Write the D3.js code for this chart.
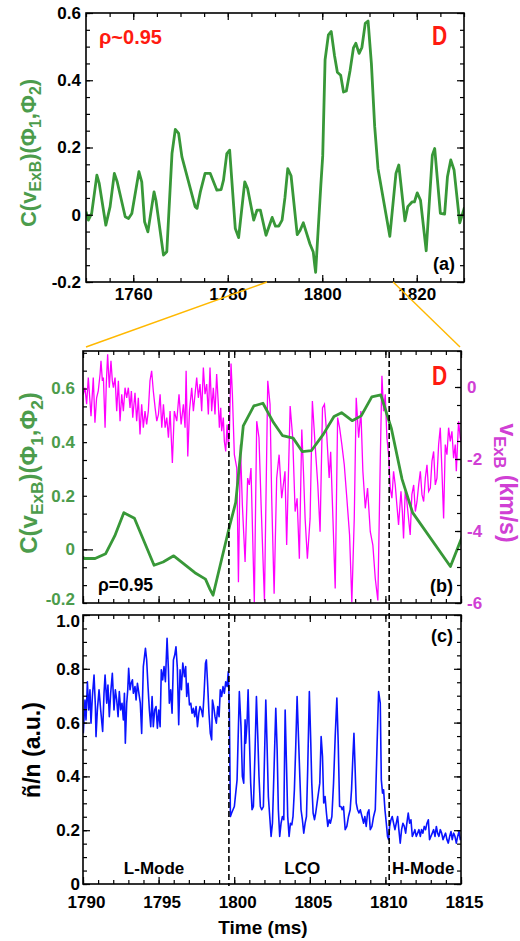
<!DOCTYPE html>
<html>
<head>
<meta charset="utf-8">
<script src="https://cdn.jsdelivr.net/npm/d3@7"></script>
<style>
  body { margin: 0; background: #fff; }
</style>
</head>
<body>
<div id="chart"></div>
<script>
// ------------------------------------------------------------------ //
// DATA
// ------------------------------------------------------------------ //

// correlation C(vExB)(phi1,phi2), [time ms, value]
var corr = [
  [1750.0,0.009],[1750.5,-0.016],[1751.2,0.004],[1752.3,0.118],[1752.8,0.093],[1754.2,-0.031],
  [1755.1,0.024],[1756.0,0.123],[1756.6,0.098],[1758.3,-0.006],[1759.0,-0.011],[1759.7,0.004],
  [1761.2,0.128],[1761.8,0.098],[1762.4,-0.021],[1763.1,-0.051],[1764.4,0.068],[1764.8,0.043],
  [1766.4,-0.12],[1767.1,-0.11],[1768.2,0.182],[1768.9,0.254],[1769.6,0.242],[1770.3,0.172],
  [1773.1,0.024],[1773.5,0.019],[1774.2,0.068],[1775.2,0.123],[1776.3,0.123],[1777.7,0.073],
  [1778.6,0.075],[1779.1,0.103],[1779.8,0.182],[1780.4,0.192],[1781.6,-0.041],[1782.3,-0.068],
  [1783.6,0.098],[1784.2,0.078],[1785.5,-0.016],[1786.2,0.014],[1786.9,0.014],[1788.1,-0.061],
  [1789.4,-0.008],[1790.1,-0.034],[1790.8,-0.034],[1791.5,-0.016],[1792.1,0.05],[1792.7,0.137],
  [1793.4,0.116],[1794.7,-0.059],[1795.3,-0.047],[1796.0,-0.024],[1797.4,-0.087],[1798.1,-0.111],
  [1798.4,-0.149],[1798.6,-0.171],[1799.7,0.088],[1800.1,0.175],[1800.6,0.461],[1801.3,0.535],
  [1801.9,0.545],[1802.6,0.473],[1803.2,0.424],[1803.9,0.415],[1804.5,0.365],[1805.1,0.368],
  [1805.9,0.43],[1806.6,0.496],[1807.1,0.51],[1807.8,0.48],[1808.4,0.498],[1809.1,0.569],
  [1809.7,0.576],[1810.4,0.45],[1811.1,0.262],[1811.8,0.137],[1814.3,-0.064],[1815.6,0.123],
  [1816.2,0.148],[1817.5,-0.018],[1818.1,0.024],[1819.0,0.038],[1819.5,0.038],[1820.1,0.065],
  [1820.8,0.043],[1822.0,-0.107],[1823.3,0.177],[1823.8,0.197],[1825.0,0.004],[1825.9,0.002],
  [1826.5,0.113],[1827.2,0.163],[1827.9,0.133],[1829.1,-0.024],[1830.1,0.022]
];

// vExB (km/s), [time ms, value]
var vexb = [
  [1789.95,-0.2],[1790.02,-0.2],[1790.13,-0.02],[1790.24,-0.48],[1790.35,0.26],[1790.46,-0.39],
  [1790.53,-0.81],[1790.68,0.26],[1790.79,-0.99],[1790.9,-0.3],[1791.01,-0.11],[1791.13,0.36],
  [1791.19,0.73],[1791.28,0.17],[1791.35,0.26],[1791.46,-1.13],[1791.54,0.08],[1791.63,0.91],
  [1791.74,-0.02],[1791.85,0.73],[1791.94,0.17],[1792.01,-0.02],[1792.12,0.26],[1792.23,-0.67],
  [1792.34,0.17],[1792.45,-0.95],[1792.56,-0.2],[1792.67,-0.67],[1792.78,-0.02],[1792.89,-0.3],
  [1793.0,-0.02],[1793.11,-0.58],[1793.2,-0.11],[1793.29,-0.85],[1793.44,-0.16],[1793.55,-0.95],
  [1793.66,-0.3],[1793.77,-1.32],[1793.88,-0.48],[1793.99,-1.13],[1794.1,-0.67],[1794.21,-1.04],
  [1794.32,-0.67],[1794.43,0.17],[1794.54,0.45],[1794.65,-0.11],[1794.77,-0.58],[1794.88,-0.95],
  [1794.99,-0.76],[1795.1,-0.2],[1795.21,-1.13],[1795.32,-0.48],[1795.43,-1.13],[1795.54,-0.85],
  [1795.65,-1.41],[1795.76,-0.67],[1795.91,-2.11],[1796.04,-0.67],[1796.2,-0.95],[1796.35,-0.2],
  [1796.49,-1.04],[1796.64,-0.48],[1796.75,-1.13],[1796.82,0.45],[1796.93,-1.93],[1797.04,-0.67],
  [1797.19,-0.02],[1797.3,-0.67],[1797.41,-0.2],[1797.52,0.26],[1797.63,-0.3],[1797.74,0.08],
  [1797.85,-0.67],[1797.96,0.54],[1798.07,-0.2],[1798.18,0.08],[1798.29,-0.76],[1798.4,0.54],
  [1798.51,-0.67],[1798.62,-0.02],[1798.73,-0.76],[1798.84,0.36],[1798.95,-0.48],[1799.02,-1.13],
  [1799.11,-0.58],[1799.17,-1.23],[1799.28,-0.85],[1799.35,-1.51],[1799.44,-1.79],[1799.53,-1.04],
  [1799.61,-1.6],[1799.68,-1.32],[1799.79,0.65],[1799.88,-0.2],[1800.01,-1.88],[1800.17,-2.25],
  [1800.28,-5.42],[1800.41,-1.6],[1800.54,-3.28],[1800.72,-4.86],[1800.89,-2.53],[1801.0,-2.72],
  [1801.11,-2.25],[1801.33,-5.98],[1801.49,-0.95],[1801.64,-1.41],[1801.78,-3.28],[1802.0,-5.93],
  [1802.22,0.17],[1802.37,-0.48],[1802.48,-3.09],[1802.64,-5.74],[1802.81,-2.53],[1802.97,-1.88],
  [1803.14,-3.09],[1803.36,-2.34],[1803.47,-4.39],[1803.7,-0.53],[1803.87,-1.41],[1804.03,-3.46],
  [1804.16,-3.09],[1804.31,-4.77],[1804.47,-1.18],[1804.58,-2.34],[1804.69,-3.65],[1804.84,-4.77],
  [1805.02,-3.65],[1805.17,-0.39],[1805.35,-1.6],[1805.53,-2.72],[1805.68,-4.02],[1805.84,-0.58],
  [1805.97,-0.48],[1806.12,-1.32],[1806.28,-2.53],[1806.38,-1.8],[1806.53,-3.65],[1806.68,-5.6],
  [1806.84,-0.85],[1806.97,-1.13],[1807.12,-1.6],[1807.28,-2.16],[1807.45,-3.09],[1807.63,-4.11],
  [1807.78,-5.98],[1807.94,-3.65],[1808.07,-0.3],[1808.23,-1.41],[1808.38,-0.67],[1808.51,-2.34],
  [1808.67,-3.37],[1808.82,-2.81],[1809.0,-4.02],[1809.17,-4.39],[1809.33,-5.32],[1809.5,-5.93],
  [1809.66,-2.06],[1809.77,0.31],[1809.88,-0.67],[1809.99,-0.2],[1810.1,-1.41],[1810.21,-1.88],
  [1810.32,-2.81],[1810.43,-3.09],[1810.54,-2.34],[1810.65,-2.72],[1810.76,-3.28],[1810.87,-3.83],
  [1811.03,-2.9],[1811.12,-3.46],[1811.2,-4.21],[1811.31,-2.9],[1811.42,-3.18],[1811.53,-3.65],
  [1811.64,-4.11],[1811.75,-2.99],[1811.87,-2.72],[1811.98,-3.46],[1812.09,-3.18],[1812.2,-2.72],
  [1812.31,-2.34],[1812.42,-2.99],[1812.53,-3.18],[1812.64,-2.53],[1812.75,-2.16],[1812.86,-2.9],
  [1812.97,-2.81],[1813.08,-2.06],[1813.19,-1.79],[1813.3,-2.72],[1813.41,-2.53],[1813.52,-1.6],
  [1813.63,-1.13],[1813.74,-2.34],[1813.85,-3.65],[1813.96,-1.6],[1814.07,-1.88],[1814.18,-1.13],
  [1814.29,-1.51],[1814.4,-1.23],[1814.51,-1.98],[1814.62,-1.6],[1814.69,-2.34],[1814.84,-0.95],
  [1814.95,-1.41],[1815.06,-1.6]
];

// density fluctuation n~/n (a.u.), [time ms, value]
var dens = [
  [1790.02,0.560],[1790.13,0.684],[1790.2,0.610],[1790.29,0.752],[1790.38,0.647],[1790.46,0.722],
  [1790.53,0.598],[1790.62,0.697],[1790.73,0.777],[1790.82,0.660],[1790.86,0.548],[1790.95,0.647],
  [1791.06,0.722],[1791.17,0.647],[1791.3,0.567],[1791.39,0.709],[1791.46,0.777],[1791.57,0.672],
  [1791.65,0.740],[1791.74,0.622],[1791.83,0.709],[1791.94,0.783],[1792.05,0.647],[1792.14,0.722],
  [1792.23,0.684],[1792.32,0.622],[1792.4,0.715],[1792.49,0.647],[1792.58,0.672],[1792.67,0.610],
  [1792.74,0.709],[1792.8,0.523],[1792.89,0.672],[1792.96,0.722],[1793.02,0.802],[1793.11,0.722],
  [1793.18,0.746],[1793.27,0.759],[1793.33,0.709],[1793.44,0.734],[1793.51,0.684],[1793.6,0.746],
  [1793.68,0.715],[1793.79,0.672],[1793.88,0.560],[1793.99,0.808],[1794.13,0.876],[1794.21,0.833],
  [1794.3,0.734],[1794.39,0.647],[1794.48,0.585],[1794.57,0.697],[1794.65,0.585],[1794.74,0.647],
  [1794.83,0.660],[1794.92,0.579],[1795.01,0.647],[1795.1,0.585],[1795.18,0.796],[1795.27,0.759],
  [1795.36,0.808],[1795.45,0.752],[1795.56,0.913],[1795.65,0.796],[1795.71,0.672],[1795.8,0.722],
  [1795.89,0.635],[1795.98,0.833],[1796.07,0.852],[1796.15,0.882],[1796.24,0.802],[1796.33,0.592],
  [1796.42,0.796],[1796.51,0.722],[1796.6,0.821],[1796.71,0.771],[1796.79,0.808],[1796.86,0.697],
  [1796.95,0.746],[1797.04,0.666],[1797.13,0.672],[1797.21,0.635],[1797.3,0.653],[1797.39,0.622],
  [1797.48,0.660],[1797.57,0.585],[1797.66,0.635],[1797.74,0.660],[1797.83,0.647],[1797.92,0.622],
  [1798.01,0.709],[1798.1,0.821],[1798.16,0.833],[1798.25,0.734],[1798.33,0.635],[1798.42,0.560],
  [1798.51,0.536],[1798.56,0.684],[1798.64,0.660],[1798.73,0.622],[1798.82,0.598],[1798.91,0.660],
  [1799.0,0.622],[1799.08,0.722],[1799.17,0.697],[1799.26,0.734],[1799.35,0.709],[1799.44,0.752],
  [1799.53,0.734],[1799.61,0.790],[1799.68,0.647],[1799.75,0.251],[1799.83,0.264],[1799.92,0.276],
  [1800.01,0.288],[1800.1,0.338],[1800.19,0.387],[1800.28,0.585],[1800.34,0.715],[1800.45,0.585],
  [1800.54,0.400],[1800.63,0.375],[1800.72,0.610],[1800.76,0.523],[1800.85,0.598],[1800.92,0.722],
  [1801.0,0.548],[1801.09,0.375],[1801.18,0.276],[1801.27,0.288],[1801.38,0.499],[1801.47,0.697],
  [1801.56,0.548],[1801.64,0.400],[1801.73,0.288],[1801.82,0.276],[1801.93,0.288],[1802.09,0.684],
  [1802.17,0.523],[1802.26,0.325],[1802.35,0.251],[1802.44,0.177],[1802.53,0.226],[1802.64,0.437],
  [1802.75,0.653],[1802.84,0.499],[1802.92,0.276],[1803.01,0.177],[1803.1,0.226],[1803.19,0.251],
  [1803.28,0.239],[1803.37,0.647],[1803.45,0.462],[1803.54,0.251],[1803.63,0.177],[1803.72,0.226],
  [1803.81,0.220],[1803.89,0.251],[1803.98,0.350],[1804.07,0.511],[1804.16,0.697],[1804.25,0.548],
  [1804.34,0.400],[1804.42,0.276],[1804.51,0.239],[1804.6,0.189],[1804.69,0.226],[1804.78,0.251],
  [1804.86,0.424],[1804.97,0.715],[1805.06,0.536],[1805.13,0.375],[1805.22,0.264],[1805.31,0.239],
  [1805.39,0.264],[1805.48,0.301],[1805.57,0.338],[1805.66,0.375],[1805.75,0.548],[1805.84,0.474],
  [1805.92,0.301],[1806.01,0.325],[1806.1,0.264],[1806.19,0.214],[1806.28,0.239],[1806.36,0.226],
  [1806.46,0.251],[1806.57,0.375],[1806.68,0.548],[1806.79,0.691],[1806.88,0.523],[1806.97,0.288],
  [1807.06,0.288],[1807.14,0.276],[1807.23,0.288],[1807.34,0.202],[1807.45,0.214],[1807.56,0.251],
  [1807.67,0.276],[1807.76,0.350],[1807.85,0.474],[1807.92,0.560],[1808.0,0.424],[1808.07,0.301],
  [1808.16,0.276],[1808.25,0.264],[1808.34,0.276],[1808.45,0.251],[1808.56,0.226],[1808.64,0.251],
  [1808.73,0.214],[1808.82,0.264],[1808.91,0.276],[1809.0,0.202],[1809.11,0.214],[1809.22,0.251],
  [1809.33,0.276],[1809.44,0.499],[1809.55,0.715],[1809.66,0.672],[1809.73,0.387],[1809.81,0.338],
  [1809.88,0.350],[1809.97,0.276],[1810.06,0.226],[1810.14,0.177],[1810.21,0.165],[1810.28,0.214],
  [1810.37,0.239],[1810.45,0.251],[1810.54,0.226],[1810.63,0.202],[1810.72,0.226],[1810.81,0.251],
  [1810.89,0.202],[1810.98,0.152],[1811.07,0.202],[1811.16,0.226],[1811.25,0.214],[1811.34,0.189],
  [1811.42,0.226],[1811.51,0.264],[1811.6,0.226],[1811.69,0.239],[1811.78,0.177],[1811.87,0.189],
  [1811.95,0.202],[1812.04,0.177],[1812.13,0.189],[1812.22,0.202],[1812.31,0.177],[1812.39,0.202],
  [1812.48,0.189],[1812.57,0.214],[1812.66,0.202],[1812.75,0.226],[1812.84,0.239],[1812.92,0.165],
  [1813.01,0.177],[1813.1,0.189],[1813.19,0.202],[1813.28,0.177],[1813.37,0.214],[1813.45,0.189],
  [1813.54,0.177],[1813.63,0.202],[1813.72,0.189],[1813.81,0.165],[1813.89,0.177],[1813.98,0.189],
  [1814.07,0.165],[1814.16,0.152],[1814.25,0.177],[1814.34,0.195],[1814.42,0.165],[1814.51,0.189],
  [1814.6,0.177],[1814.69,0.152],[1814.78,0.177],[1814.87,0.195],[1814.95,0.165],[1815.06,0.177]
];

// time window of panel (a) zoomed into (b), and the regime boundaries
var zoomWindow = [1788.3, 1815];
var transitions = [1799.65, 1810.25];
var regimes = [
  {label: "L-Mode", t: 1794.7},
  {label: "LCO", t: 1804.5},
  {label: "H-Mode", t: 1812.5}
];

// tick labels
var ticksAx = [1760, 1780, 1800, 1820];
var ticksAy = [-0.2, 0, 0.2, 0.4, 0.6];
var ticksBy = [-0.2, 0, 0.2, 0.4, 0.6];
var ticksBy2 = [-6, -4, -2, 0];
var ticksCx = [1790, 1795, 1800, 1805, 1810, 1815];
var ticksCy = [0, 0.2, 0.4, 0.6, 0.8, 1.0];

// ------------------------------------------------------------------ //
// SVG AREA
// ------------------------------------------------------------------ //

var FONT = "'Liberation Sans', Arial, Helvetica, sans-serif";
var GREEN = "#389838", GREEN_TXT = "#4c9c4c", MAGENTA = "#ff00ff", MAG_TXT = "#d040d4",
    BLUE = "#0a14ff", RED = "#ff1a10", ORANGE = "#ffb800";

var svg = d3.select("#chart")
  .append("svg")
    .attr("width", 520)
    .attr("height", 941)
    .style("font-family", FONT)
    .style("font-weight", "bold");

// scales
var xA = d3.scaleLinear().domain([1750, 1830]).range([86, 464]);
var yA = d3.scaleLinear().domain([-0.2, 0.6]).range([282, 13]);
var xB = d3.scaleLinear().domain([1790, 1815]).range([83, 461]);
var yB = d3.scaleLinear().domain([-0.2, 0.74]).range([603, 351]);
var yB2 = d3.scaleLinear().domain([-6, 1]).range([603, 351]);
var yC = d3.scaleLinear().domain([0, 1]).range([884, 615]);

function fmt1(d) { return d === 0 ? "0" : d.toFixed(1); }

// tick marks pointing inwards, no labels
function tickMarks(axisGen, scale, values, size, tx, ty) {
  svg.append("g")
    .attr("transform", "translate(" + tx + "," + ty + ")")
    .call(axisGen(scale).tickValues(values).tickSizeInner(-size).tickSizeOuter(0).tickFormat(""))
    .call(function(g) { g.select(".domain").remove(); })
    .selectAll("line")
      .attr("stroke", "#000")
      .attr("stroke-width", 1.2);
}

// tick labels only
function tickLabels(axisGen, scale, values, format, pad, tx, ty, color, dx) {
  var g = svg.append("g")
    .attr("transform", "translate(" + tx + "," + ty + ")")
    .call(axisGen(scale).tickValues(values).tickSize(0).tickPadding(pad).tickFormat(format));
  g.select(".domain").remove();
  g.attr("font-family", FONT).attr("font-size", 17).attr("font-weight", "bold");
  g.selectAll("text").attr("fill", color).attr("dx", dx || 0);
  return g;
}

function frame(x0, x1, y0, y1) {
  svg.append("rect")
    .attr("x", x0).attr("y", y0)
    .attr("width", x1 - x0).attr("height", y1 - y0)
    .attr("fill", "none")
    .attr("stroke", "#000")
    .attr("stroke-width", 1.6);
}

function clip(id, x0, x1, y0, y1) {
  svg.append("clipPath").attr("id", id)
    .append("rect")
      .attr("x", x0).attr("y", y0)
      .attr("width", x1 - x0).attr("height", y1 - y0);
}

// rotated title with subscripts
function title(parts, x, y, angle, size, color) {
  var t = svg.append("text")
    .attr("transform", "translate(" + x + "," + y + ")rotate(" + angle + ")")
    .attr("text-anchor", "middle")
    .attr("font-size", size)
    .attr("fill", color);
  var shift = 0;
  parts.forEach(function(p) {
    var s = p.sub ? size * 0.24 : 0;
    t.append("tspan")
      .attr("dy", s - shift)
      .attr("font-size", p.sub ? size * 0.72 : size)
      .text(p.t);
    shift = s;
  });
}

// ------------------------------------------------------------------ //
// PANEL (a)
// ------------------------------------------------------------------ //

clip("clipA", 86, 464, 13, 282);

svg.append("path")
  .datum(corr)
  .attr("clip-path", "url(#clipA)")
  .attr("fill", "none")
  .attr("stroke", GREEN)
  .attr("stroke-width", 2.8)
  .attr("stroke-linejoin", "round")
  .attr("d", d3.line().x(function(d) { return xA(d[0]); }).y(function(d) { return yA(d[1]); }));

var minorAx = d3.range(1750, 1831, 5);
var minorAy = d3.range(-4, 13).map(function(k) { return k * 0.05; });
tickMarks(d3.axisBottom, xA, minorAx, 4, 0, 282);
tickMarks(d3.axisTop, xA, minorAx, 4, 0, 13);
tickMarks(d3.axisBottom, xA, ticksAx, 7, 0, 282);
tickMarks(d3.axisTop, xA, ticksAx, 7, 0, 13);
tickMarks(d3.axisLeft, yA, minorAy, 4, 86, 0);
tickMarks(d3.axisRight, yA, minorAy, 4, 464, 0);
tickMarks(d3.axisLeft, yA, ticksAy, 7, 86, 0);
tickMarks(d3.axisRight, yA, ticksAy, 7, 464, 0);
frame(86, 464, 13, 282);

tickLabels(d3.axisBottom, xA, ticksAx, d3.format("d"), 6, 0, 282, "#000");
tickLabels(d3.axisLeft, yA, ticksAy, fmt1, 5, 86, 0, "#000");

title([{t: "C(v"}, {t: "ExB", sub: true}, {t: ")(Φ"}, {t: "1", sub: true},
       {t: ",Φ"}, {t: "2", sub: true}, {t: ")"}], 36, 153, -90, 22, GREEN_TXT);

svg.append("text").attr("x", 99).attr("y", 44)
  .attr("font-size", 20).attr("fill", RED).text("ρ~0.95");
svg.append("text").attr("transform", "translate(432,45)scale(0.78,1)")
  .attr("font-size", 27).attr("fill", RED).text("D");
svg.append("text").attr("x", 455).attr("y", 270).attr("text-anchor", "end")
  .attr("font-size", 18).attr("fill", "#000").text("(a)");

// zoom guide lines
svg.selectAll(".guide")
  .data([[zoomWindow[0], 1790], [zoomWindow[1], 1815]])
  .enter()
  .append("line")
    .attr("class", "guide")
    .attr("x1", function(d) { return xA(d[0]); })
    .attr("y1", yA(-0.2))
    .attr("x2", function(d, i) { return xB(d[1]) + (i === 0 ? 3 : -1); })
    .attr("y2", yB(0.74) - 4)
    .attr("stroke", ORANGE)
    .attr("stroke-width", 1.4);

// ------------------------------------------------------------------ //
// PANEL (b)
// ------------------------------------------------------------------ //

clip("clipB", 83, 461, 351, 603);

svg.append("path")
  .datum(vexb)
  .attr("clip-path", "url(#clipB)")
  .attr("fill", "none")
  .attr("stroke", MAGENTA)
  .attr("stroke-width", 1.3)
  .attr("d", d3.line().x(function(d) { return xB(d[0]); }).y(function(d) { return yB2(d[1]); }));

svg.append("path")
  .datum(corr)
  .attr("clip-path", "url(#clipB)")
  .attr("fill", "none")
  .attr("stroke", GREEN)
  .attr("stroke-width", 2.8)
  .attr("stroke-linejoin", "round")
  .attr("d", d3.line().x(function(d) { return xB(d[0]); }).y(function(d) { return yB(d[1]); }));

var minorBx = d3.range(1790, 1816, 1);
var majorBx = d3.range(1790, 1816, 5);
var minorBy = d3.range(0, 15).map(function(k) { return -0.2 + k * 0.2 / 3; });
var minorBy2 = d3.range(-12, 3).map(function(k) { return k * 0.5; });
tickMarks(d3.axisBottom, xB, minorBx, 4, 0, 603);
tickMarks(d3.axisTop, xB, minorBx, 4, 0, 351);
tickMarks(d3.axisBottom, xB, majorBx, 7, 0, 603);
tickMarks(d3.axisTop, xB, majorBx, 7, 0, 351);
tickMarks(d3.axisLeft, yB, minorBy, 4, 83, 0);
tickMarks(d3.axisLeft, yB, [0], 10, 83, 0);
tickMarks(d3.axisRight, yB2, minorBy2, 4, 461, 0);
tickMarks(d3.axisRight, yB2, ticksBy2, 6, 461, 0);
frame(83, 461, 351, 603);

var labBy = tickLabels(d3.axisLeft, yB, ticksBy, fmt1, 8, 83, 0, GREEN_TXT);
labBy.selectAll("text").filter(function(d) { return d === -0.2; }).attr("dy", "0.1em");
tickLabels(d3.axisRight, yB2, ticksBy2, function(d) { return String(d); }, 6, 461, 0, MAG_TXT);

title([{t: "C(v"}, {t: "ExB", sub: true}, {t: ")(Φ"}, {t: "1", sub: true},
       {t: ",Φ"}, {t: "2", sub: true}, {t: ")"}], 37, 473, -90, 24, GREEN_TXT);
title([{t: "v"}, {t: "ExB", sub: true}, {t: " (km/s)"}], 500, 483, 90, 23, MAG_TXT);

svg.append("text").attr("x", 98).attr("y", 591)
  .attr("font-size", 17.5).attr("fill", "#000").text("ρ=0.95");
svg.append("text").attr("transform", "translate(432,385)scale(0.78,1)")
  .attr("font-size", 27).attr("fill", RED).text("D");
svg.append("text").attr("x", 453).attr("y", 592).attr("text-anchor", "end")
  .attr("font-size", 18).attr("fill", "#000").text("(b)");

// ------------------------------------------------------------------ //
// PANEL (c)
// ------------------------------------------------------------------ //

clip("clipC", 83, 461, 615, 884);

svg.append("path")
  .datum(dens)
  .attr("clip-path", "url(#clipC)")
  .attr("fill", "none")
  .attr("stroke", BLUE)
  .attr("stroke-width", 1.6)
  .attr("stroke-linejoin", "round")
  .attr("d", d3.line().x(function(d) { return xB(d[0]); }).y(function(d) { return yC(d[1]); }));

var minorCy = d3.range(0, 21).map(function(k) { return k * 0.05; });
tickMarks(d3.axisBottom, xB, minorBx, 4, 0, 884);
tickMarks(d3.axisTop, xB, minorBx, 4, 0, 615);
tickMarks(d3.axisBottom, xB, ticksCx, 7, 0, 884);
tickMarks(d3.axisTop, xB, ticksCx, 7, 0, 615);
tickMarks(d3.axisLeft, yC, minorCy, 4, 83, 0);
tickMarks(d3.axisRight, yC, minorCy, 4, 461, 0);
tickMarks(d3.axisLeft, yC, ticksCy, 7, 83, 0);
tickMarks(d3.axisRight, yC, ticksCy, 7, 461, 0);
frame(83, 461, 615, 884);

tickLabels(d3.axisBottom, xB, ticksCx, d3.format("d"), 12, 0, 884, "#000", 3);
var labCy = tickLabels(d3.axisLeft, yC, ticksCy, fmt1, 3, 83, 0, "#000");
labCy.selectAll("text").filter(function(d) { return d === 1; }).attr("dy", "0.68em");

title([{t: "ñ/n (a.u.)"}], 40, 750, -90, 23, "#000");

svg.append("text").attr("x", 263).attr("y", 934).attr("text-anchor", "middle")
  .attr("font-size", 19).attr("fill", "#000").text("Time (ms)");
svg.append("text").attr("x", 453).attr("y", 642).attr("text-anchor", "end")
  .attr("font-size", 18).attr("fill", "#000").text("(c)");

svg.selectAll(".regime")
  .data(regimes)
  .enter()
  .append("text")
    .attr("class", "regime")
    .attr("x", function(d) { return xB(d.t); })
    .attr("y", 874)
    .attr("text-anchor", "middle")
    .attr("font-size", 17)
    .attr("fill", "#000")
    .text(function(d) { return d.label; });

// regime boundaries across (b) and (c)
svg.selectAll(".boundary")
  .data(transitions)
  .enter()
  .append("line")
    .attr("class", "boundary")
    .attr("x1", function(d) { return xB(d); })
    .attr("x2", function(d) { return xB(d); })
    .attr("y1", 352)
    .attr("y2", 886)
    .attr("stroke", "#000")
    .attr("stroke-width", 1.6)
    .attr("stroke-dasharray", "6,3");
</script>
</body>
</html>
